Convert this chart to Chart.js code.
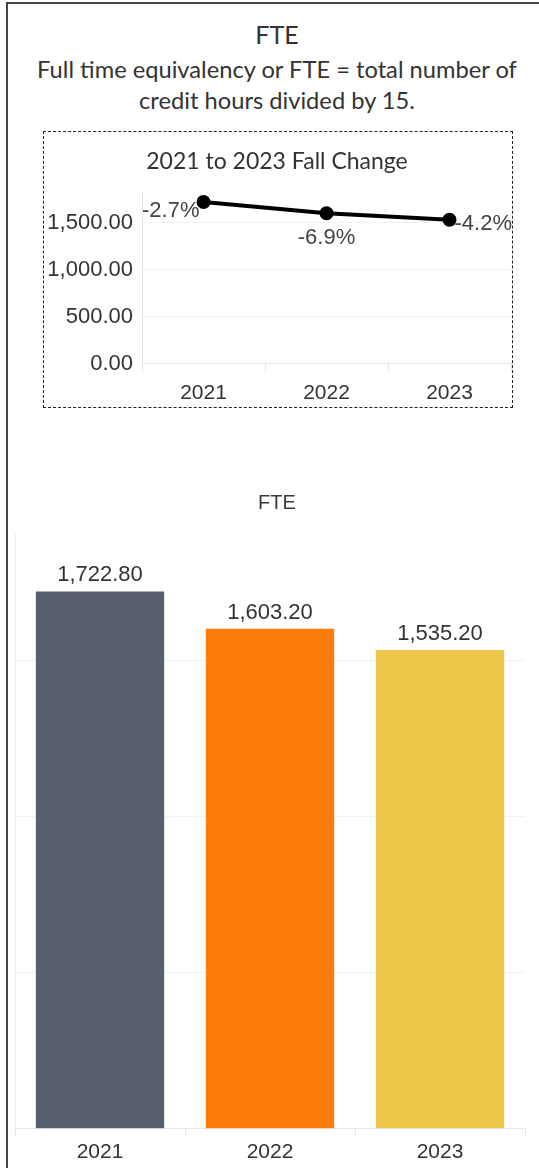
<!DOCTYPE html>
<html>
<head>
<meta charset="utf-8">
<script src="https://cdn.jsdelivr.net/npm/chart.js@4.4.0/dist/chart.umd.min.js"></script>
<style>
  html, body { margin: 0; padding: 0; background: #fff; }
  body { width: 539px; height: 1168px; position: relative; overflow: hidden; font-family: Lato, "Open Sans", sans-serif; color: #333; }
  .frame { position: absolute; left: 6px; top: 2px; width: 540px; height: 1180px; border-left: 2px solid #444; border-top: 2px solid #444; }
  .title { position: absolute; left: 7px; width: 540px; text-align: center; white-space: nowrap; }
  #mainTitle { top: 19px; font-size: 25px; line-height: 30px; }
  #subTitle { top: 54px; font-size: 23.7px; line-height: 31px; }
  #lineTitle { top: 146px; font-size: 23px; line-height: 28px; }
  #barTitle { top: 490px; font-size: 20px; line-height: 24px; font-family: "Liberation Sans", Arial, sans-serif; color: #3a3a3a; }
  .dashbox { position: absolute; left: 43px; top: 131px; width: 468px; height: 275px; border: 1px dashed #222; }
  #lineWrap { position: absolute; left: 40px; top: 133px; width: 480px; height: 282px; }
  #barWrap { position: absolute; left: 8px; top: 480px; width: 531px; height: 691px; }
</style>
</head>
<body>
<div class="frame"></div>
<div class="title" id="mainTitle">FTE</div>
<div class="title" id="subTitle">Full time equivalency or FTE = total number of<br>credit hours divided by 15.</div>
<div class="dashbox"></div>
<div id="lineWrap"><canvas id="lineChart" width="480" height="282"></canvas></div>
<div class="title" id="lineTitle">2021 to 2023 Fall Change</div>
<div id="barWrap"><canvas id="barChart" width="531" height="691"></canvas></div>
<div class="title" id="barTitle">FTE</div>

<script>
// data
const years = ['2021', '2022', '2023'];
const fteValues = [1722.8, 1603.2, 1535.2];
const pctChange = [-2.7, -6.9, -4.2];
const lineTicks = [0, 500, 1000, 1500];
const barGridTicks = [0, 500, 1000, 1500];
const barColors = ['#57606c', '#fc7d0b', '#ecc648'];

const numFmt = v => v.toLocaleString('en-US', { minimumFractionDigits: 2, maximumFractionDigits: 2 });
const labelFont = '22px "Liberation Sans", Arial, sans-serif';

// percent labels around the line points: first to the left, last to the right, others below
const pctLabels = {
    id: 'pctLabels',
    afterDatasetsDraw(chart) {
        const ctx = chart.ctx;
        const pts = chart.getDatasetMeta(0).data;
        ctx.save();
        ctx.font = labelFont;
        ctx.fillStyle = '#444';
        ctx.textBaseline = 'middle';
        pts.forEach((p, i) => {
            const txt = pctChange[i].toFixed(1) + '%';
            if (i === 0) {
                ctx.textAlign = 'right';
                ctx.fillText(txt, p.x - 4, p.y + 9);
            } else if (i === pts.length - 1) {
                ctx.textAlign = 'left';
                ctx.fillText(txt, p.x + 5, p.y + 4);
            } else {
                ctx.textAlign = 'center';
                ctx.fillText(txt, p.x, p.y + 25);
            }
        });
        ctx.restore();
    }
};

// value labels above the bars
const barValueLabels = {
    id: 'barValueLabels',
    afterDatasetsDraw(chart) {
        const ctx = chart.ctx;
        ctx.save();
        ctx.font = labelFont;
        ctx.fillStyle = '#333';
        ctx.textAlign = 'center';
        ctx.textBaseline = 'bottom';
        chart.getDatasetMeta(0).data.forEach((bar, i) => {
            ctx.fillText(numFmt(fteValues[i]), bar.x, bar.y - 5);
        });
        ctx.restore();
    }
};

Chart.defaults.font.family = '"Liberation Sans", Arial, sans-serif';
Chart.defaults.color = '#333';

new Chart(document.getElementById('lineChart'), {
    type: 'line',
    data: {
        labels: years,
        datasets: [{
            data: fteValues,
            borderColor: '#000',
            backgroundColor: '#000',
            borderWidth: 4,
            pointRadius: 5,
            pointBackgroundColor: '#000',
            tension: 0
        }]
    },
    options: {
        responsive: false,
        animation: false,
        layout: { padding: { left: 0, right: 0, top: 59, bottom: 0 } },
        plugins: {
            legend: { display: false },
            tooltip: { enabled: false }
        },
        scales: {
            x: {
                offset: true,
                grid: { offset: true, drawOnChartArea: false, tickLength: 8, color: '#e4e4e4' },
                border: { color: '#e4e4e4' },
                ticks: { font: { size: 21 }, color: '#333', padding: 9 }
            },
            y: {
                min: 0,
                max: 1830,
                afterBuildTicks: s => { s.ticks = lineTicks.map(v => ({ value: v })); },
                afterFit: s => { s.width = 102; },
                grid: { drawTicks: false, color: '#f0f0f0' },
                border: { color: '#e4e4e4' },
                ticks: { font: { size: 22 }, color: '#333', padding: 9, callback: v => numFmt(v) }
            }
        }
    },
    plugins: [pctLabels]
});

new Chart(document.getElementById('barChart'), {
    type: 'bar',
    data: {
        labels: years,
        datasets: [{
            data: fteValues,
            backgroundColor: barColors,
            barPercentage: 0.755,
            categoryPercentage: 1.0
        }]
    },
    options: {
        responsive: false,
        animation: false,
        layout: { padding: { left: 7, right: 14, top: 53, bottom: 3 } },
        plugins: {
            legend: { display: false },
            tooltip: { enabled: false }
        },
        scales: {
            x: {
                grid: { drawOnChartArea: false, tickLength: 8, color: '#e8e8e8' },
                border: { color: '#e8e8e8' },
                ticks: { font: { size: 21 }, color: '#333', padding: 3 }
            },
            y: {
                min: 0,
                max: 1910,
                afterBuildTicks: s => { s.ticks = barGridTicks.map(v => ({ value: v })); },
                afterFit: s => { s.width = 0; },
                grid: { drawTicks: false, color: '#f2f2f2' },
                border: { color: '#f0f0f0' },
                ticks: { display: false }
            }
        }
    },
    plugins: [barValueLabels]
});
</script>
</body>
</html>
